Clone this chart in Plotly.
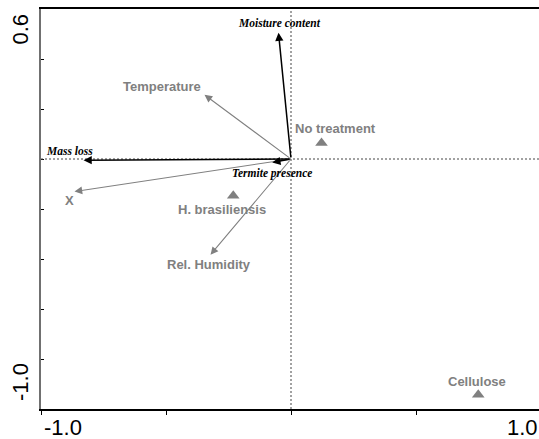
import plotly.graph_objects as go

# ---------------- data (biplot scores) ----------------
# environmental variables drawn as black italic arrows
black_names = ["Moisture content", "Mass loss", "Termite presence"]
black_x = [-0.05, -0.83, -0.075]
black_y = [0.505, -0.005, -0.014]

# variables drawn as grey arrows
gray_names = ["Temperature", "X", "Rel. Humidity"]
gray_x = [-0.346, -0.866, -0.322]
gray_y = [0.257, -0.13, -0.383]

# treatment centroids (triangles)
treat_names = ["No treatment", "H. brasiliensis", "Cellulose"]
treat_x = [0.122, -0.231, 0.749]
treat_y = [0.064, -0.147, -0.943]

# axis ticks
x_ticks = [-1.0, -0.5, 0.0, 0.5]
y_ticks = [-1.0, -0.8, -0.6, -0.4, -0.2, 0.0, 0.2, 0.4, 0.6]
x_tick_labels = ["-1.0", "1.0"]
x_tick_label_vals = [-1.0, 1.0]
y_tick_labels = ["0.6", "-1.0"]
y_tick_label_vals = [0.6, -1.0]

# ---------------- styles ----------------
W, H = 539, 439
ML, MR, MT, MB = 41, 0, 9, 30
PX_PER_UNIT = 250.0
x_min = -1.0
x_max = x_min + (W - ML - MR) / PX_PER_UNIT

GRAY = "#808080"
sans = "Liberation Sans, Arial, sans-serif"
serif = "Liberation Serif, Times New Roman, serif"

# label offsets in pixels (xshift, yshift, xanchor)
black_label_style = [(1, 10, "center"), (-14, 9, "center"), (0, -11, "center")]
gray_label_style = [(-2, 8, "right"), (-5, -9, "center"), (-2, -10, "center")]
treat_label_style = [(14, 15, "center"), (-11, -14, "center"), (-1, 13, "center")]

fig = go.Figure()

# triangles
fig.add_trace(go.Scatter(
    x=treat_x, y=treat_y, mode="markers",
    marker=dict(symbol="triangle-up", size=11, color=GRAY),
    hoverinfo="skip", showlegend=False,
))

annotations = []

# arrows
for xs, ys, col, w in [(gray_x, gray_y, GRAY, 1.1), (black_x, black_y, "black", 1.5)]:
    for x, y in zip(xs, ys):
        annotations.append(dict(
            x=x, y=y, ax=0, ay=0, xref="x", yref="y", axref="x", ayref="y",
            text="", showarrow=True, arrowhead=2, arrowsize=1.4 if w < 1.3 else 1.1,
            arrowwidth=w, arrowcolor=col,
        ))

# arrow labels
for names, xs, ys, st, font in [
    (black_names, black_x, black_y, black_label_style,
     dict(family=serif, size=11.5, color="black", weight="bold", style="italic")),
    (gray_names, gray_x, gray_y, gray_label_style,
     dict(family=sans, size=13, color=GRAY, weight="bold")),
    (treat_names, treat_x, treat_y, treat_label_style,
     dict(family=sans, size=13, color=GRAY, weight="bold")),
]:
    for n, x, y, (dx, dy, xa) in zip(names, xs, ys, st):
        annotations.append(dict(
            x=x, y=y, xref="x", yref="y", text=n, showarrow=False,
            xshift=dx, yshift=dy, xanchor=xa, yanchor="middle", font=font,
        ))

# tick labels (x positions converted to paper fraction so the 1.0 label, which
# sits just past the visible frame, is still drawn)
for lab, v, xa in zip(x_tick_labels, x_tick_label_vals, ["left", "right"]):
    px = (v - x_min) / (x_max - x_min)
    annotations.append(dict(
        x=min(px, 1.0), y=0, xref="paper", yref="paper", text=lab, showarrow=False,
        xanchor=xa, yanchor="top", yshift=-4, xshift=1 if xa == "left" else 1,
        font=dict(family=sans, size=22, color="black"),
    ))
for lab, v, ya in zip(y_tick_labels, y_tick_label_vals, ["top", "bottom"]):
    annotations.append(dict(
        x=0, y=v, xref="paper", yref="y", text=lab, showarrow=False,
        xanchor="center", yanchor=ya, xshift=-21, yshift=-3 if ya == "top" else 6,
        textangle=-90,
        font=dict(family=sans, size=22, color="black"),
    ))

shapes = [
    dict(type="line", x0=0, x1=0, y0=0, y1=1, xref="x", yref="paper",
         line=dict(color="#444444", width=1, dash="2px,2px")),
    dict(type="line", x0=0, x1=1, y0=0, y1=0, xref="paper", yref="y",
         line=dict(color="#444444", width=1, dash="2px,2px")),
]

fig.update_layout(
    width=W, height=H,
    margin=dict(l=ML, r=MR, t=MT, b=MB),
    paper_bgcolor="white", plot_bgcolor="white",
    showlegend=False,
    annotations=annotations, shapes=shapes,
    xaxis=dict(range=[x_min, x_max], showgrid=False, zeroline=False,
               showline=True, linecolor="black", linewidth=1.5, mirror=True,
               tickvals=x_ticks, showticklabels=False,
               ticks="outside", ticklen=4, tickcolor="black", tickwidth=1),
    yaxis=dict(range=[-1.0, 0.6], showgrid=False, zeroline=False,
               showline=True, linecolor="#707070", linewidth=2, mirror=False,
               tickvals=y_ticks, showticklabels=False,
               ticks="inside", ticklen=3, tickcolor="black", tickwidth=1),
)

fig.write_html("out.html")
